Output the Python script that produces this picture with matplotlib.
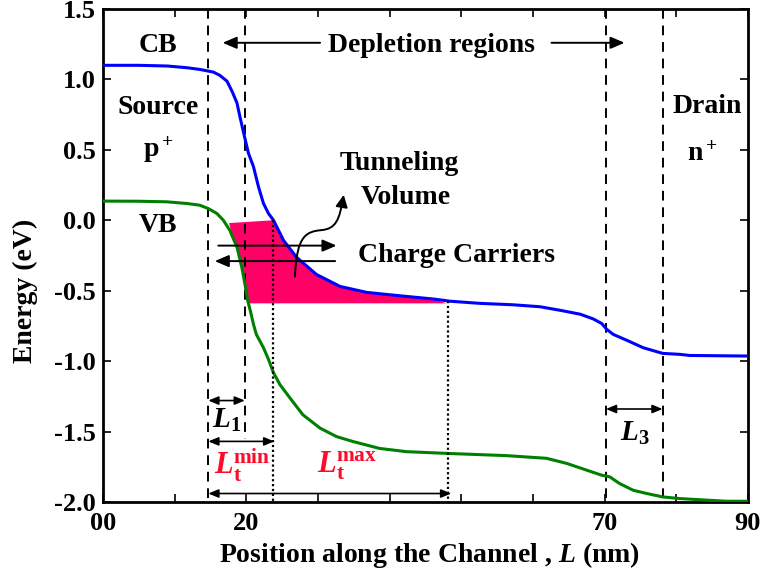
import matplotlib

matplotlib.use("Agg")
import matplotlib.pyplot as plt
from matplotlib.patches import FancyArrowPatch
from matplotlib.path import Path

plt.rcParams["font.family"] = ["Liberation Serif", "DejaVu Serif"]
plt.rcParams["font.weight"] = "bold"
plt.rcParams["axes.labelweight"] = "bold"
plt.rcParams["mathtext.fontset"] = "custom"
plt.rcParams["mathtext.rm"] = "Liberation Serif"
plt.rcParams["mathtext.it"] = "Liberation Serif:italic"
plt.rcParams["mathtext.bf"] = "Liberation Serif:italic:bold"
plt.rcParams["mathtext.sf"] = "Liberation Serif:bold"

# conduction band (eV) along the channel (nm)
cb_x = [0, 5, 9, 11.7, 13.5, 15.4, 16.3, 17.3, 18.0, 18.7, 19.1, 19.8, 20.3,
        21.0, 21.7, 22.4, 23.1, 23.8, 25.2, 27.0, 29.8, 33.1, 36.8, 41.4,
        46.1, 48.5, 52.6, 57.2, 61.0, 64.2, 66.6, 68.4, 69.6, 70.3, 71.2,
        73.1, 75.4, 78.1, 80.5, 81.9, 90]
cb_y = [1.10, 1.10, 1.095, 1.083, 1.071, 1.052, 1.029, 0.988, 0.917, 0.833,
        0.738, 0.583, 0.476, 0.381, 0.238, 0.119, 0.048, 0.0, -0.143, -0.262,
        -0.385, -0.47, -0.512, -0.536, -0.559, -0.575, -0.59, -0.60, -0.614,
        -0.643, -0.667, -0.70, -0.733, -0.774, -0.81, -0.852, -0.905, -0.945,
        -0.952, -0.96, -0.964]

# valence band
vb_x = [0, 5, 8.9, 11.7, 13.5, 14.7, 15.9, 16.8, 17.7, 18.1, 18.7, 19.4,
        19.8, 20.2, 20.6, 21.0, 21.4, 22.4, 23.1, 23.8, 24.7, 26.1, 27.9,
        30.3, 32.6, 34.9, 38.6, 42.4, 47.9, 56.3, 61.9, 64.7, 67.5, 69.6,
        70.7, 72.1, 74.0, 75.9, 78.1, 80.5, 87.0, 90]
vb_y = [0.136, 0.135, 0.131, 0.119, 0.107, 0.083, 0.048, 0.0, -0.071, -0.12,
        -0.19, -0.34, -0.45, -0.57, -0.65, -0.738, -0.81, -0.905, -0.988,
        -1.083, -1.167, -1.262, -1.381, -1.476, -1.536, -1.571, -1.62,
        -1.643, -1.655, -1.671, -1.69, -1.726, -1.774, -1.81, -1.821, -1.869,
        -1.917, -1.94, -1.964, -1.976, -1.995, -1.995]

# tunneling volume outline
tun_x = [17.6, 18.1, 18.7, 19.4, 19.8, 20.2, 48, 46.1, 41.4, 36.8, 33.1,
         29.8, 27.0, 25.2, 23.8]
tun_y = [-0.02, -0.12, -0.19, -0.34, -0.45, -0.59, -0.59, -0.559, -0.536,
         -0.512, -0.47, -0.385, -0.262, -0.143, 0.0]

x_ticks = [0, 10, 20, 30, 40, 50, 60, 70, 80, 90]
x_ticklabels = ["00", "", "20", "", "", "", "", "70", "", "90"]
y_ticks = [1.5, 1.0, 0.5, 0.0, -0.5, -1.0, -1.5, -2.0]
y_ticklabels = ["1.5", "1.0", "0.5", "0.0", "-0.5", "-1.0", "-1.5", "-2.0"]

fig = plt.figure(figsize=(7.6, 5.83), dpi=100)
ax = fig.add_axes([0.1355, 0.139, 0.8485, 0.8456])

ax.fill(tun_x, tun_y, color="#FF0066", lw=0, zorder=1)
ax.plot(cb_x, cb_y, color="#0000FF", lw=2.2, zorder=3)
ax.plot(vb_x, vb_y, color="#008000", lw=2.2, zorder=3)

dash = (0, (5, 3.5))
dot = (0, (1, 1.2))
ax.plot([14.7, 14.7], [1.5, -2.0], color="k", lw=1.4, ls=dash, zorder=2)
ax.plot([19.8, 19.8], [1.5, -1.55], color="k", lw=1.4, ls=dash, zorder=2)
ax.plot([70.2, 70.2], [1.5, -2.0], color="k", lw=1.4, ls=dash, zorder=2)
ax.plot([78.1, 78.1], [1.5, -2.0], color="k", lw=1.4, ls=dash, zorder=2)
ax.plot([23.7, 23.7], [0.0, -2.0], color="k", lw=1.6, ls=dot, zorder=4)
ax.plot([48.1, 48.1], [-0.57, -2.0], color="k", lw=1.6, ls=dot, zorder=4)


def arrow(x0, y0, x1, y1, style="-|>", hl=0.7, hw=0.3, lw=1.4, ms=12):
    ax.add_patch(FancyArrowPatch(
        (x0, y0), (x1, y1),
        arrowstyle=f"{style},head_length={hl},head_width={hw}",
        mutation_scale=ms, color="k", lw=lw, shrinkA=0, shrinkB=0, zorder=5))


# depletion regions
arrow(30.3, 1.26, 16.7, 1.26)
arrow(62.6, 1.26, 72.8, 1.26)
# charge carriers
arrow(16.1, -0.18, 32.6, -0.18)
arrow(32.4, -0.29, 15.6, -0.29)
# lengths
arrow(14.7, -1.28, 19.8, -1.28, "<|-|>", 0.6, 0.25, 1.2, 10)
arrow(14.7, -1.57, 23.9, -1.57, "<|-|>", 0.6, 0.25, 1.2, 10)
arrow(14.7, -1.94, 48.6, -1.94, "<|-|>", 0.6, 0.25, 1.2, 10)
arrow(70.2, -1.34, 78.1, -1.34, "<|-|>", 0.6, 0.25, 1.2, 10)

# curved tunneling arrow
verts = [(26.8, -0.40), (27.0, -0.10), (28.5, -0.08), (30.5, -0.07),
         (32.5, -0.06), (33.0, 0.0), (33.6, 0.18)]
codes = [Path.MOVETO] + [Path.CURVE4] * 6
ax.add_patch(FancyArrowPatch(
    path=Path(verts, codes), arrowstyle="-|>,head_length=0.6,head_width=0.3",
    mutation_scale=12, color="k", lw=1.4, zorder=5))

fs = 20
ax.text(7.7, 1.24, "CB", ha="center", va="center", fontsize=fs)
ax.text(7.7, 0.80, "Source", ha="center", va="center", fontsize=fs)
ax.text(7.7, 0.50, "p$^+$", ha="center", va="center", fontsize=fs)
ax.text(7.7, -0.04, "VB", ha="center", va="center", fontsize=fs)
ax.text(84.4, 0.81, "Drain", ha="center", va="center", fontsize=fs)
ax.text(83.7, 0.47, "n$^+$", ha="center", va="center", fontsize=fs)
ax.text(45.9, 1.24, "Depletion regions", ha="center", va="center", fontsize=fs)
ax.text(41.4, 0.40, "Tunneling", ha="center", va="center", fontsize=fs)
ax.text(42.3, 0.16, "Volume", ha="center", va="center", fontsize=fs)
ax.text(35.6, -0.25, "Charge Carriers", ha="left", va="center", fontsize=fs)

ax.text(17.3, -1.42, "$L_1$", ha="center", va="center", fontsize=21)
ax.text(74.2, -1.51, r"$\mathbf{L}_3$", ha="center", va="center", fontsize=21)
ax.text(19.4, -1.74, r"$\mathbf{L}_{\mathsf{t}}^{\mathsf{min}}$", color="#FF0A2A",
        ha="center", va="center", fontsize=22)
ax.text(34.0, -1.74, r"$\mathbf{L}_{\mathsf{t}}^{\mathsf{max}}$", color="#FF0A2A",
        ha="center", va="center", fontsize=22)

ax.set_xlim(0, 90)
ax.set_ylim(-2.0, 1.5)
ax.set_xticks(x_ticks)
ax.set_xticklabels(x_ticklabels)
ax.set_yticks(y_ticks)
ax.set_yticklabels(y_ticklabels)
ax.tick_params(direction="in", top=True, right=True, length=6, width=1.2,
               labelsize=19)
ax.tick_params(axis="y", pad=5)
ax.tick_params(axis="x", pad=7)
for s in ax.spines.values():
    s.set_linewidth(2.0)
ax.set_xlabel("Position along the Channel , $\\mathbf{L}$ (nm)", fontsize=20)
ax.set_ylabel("Energy (eV)", fontsize=20)
ax.xaxis.set_label_coords(0.507, -0.107)
ax.yaxis.set_label_coords(-0.121, 0.428)
ax.xaxis.label.set_va("center")
ax.yaxis.label.set_va("center")

fig.savefig("out.png", dpi=100)
